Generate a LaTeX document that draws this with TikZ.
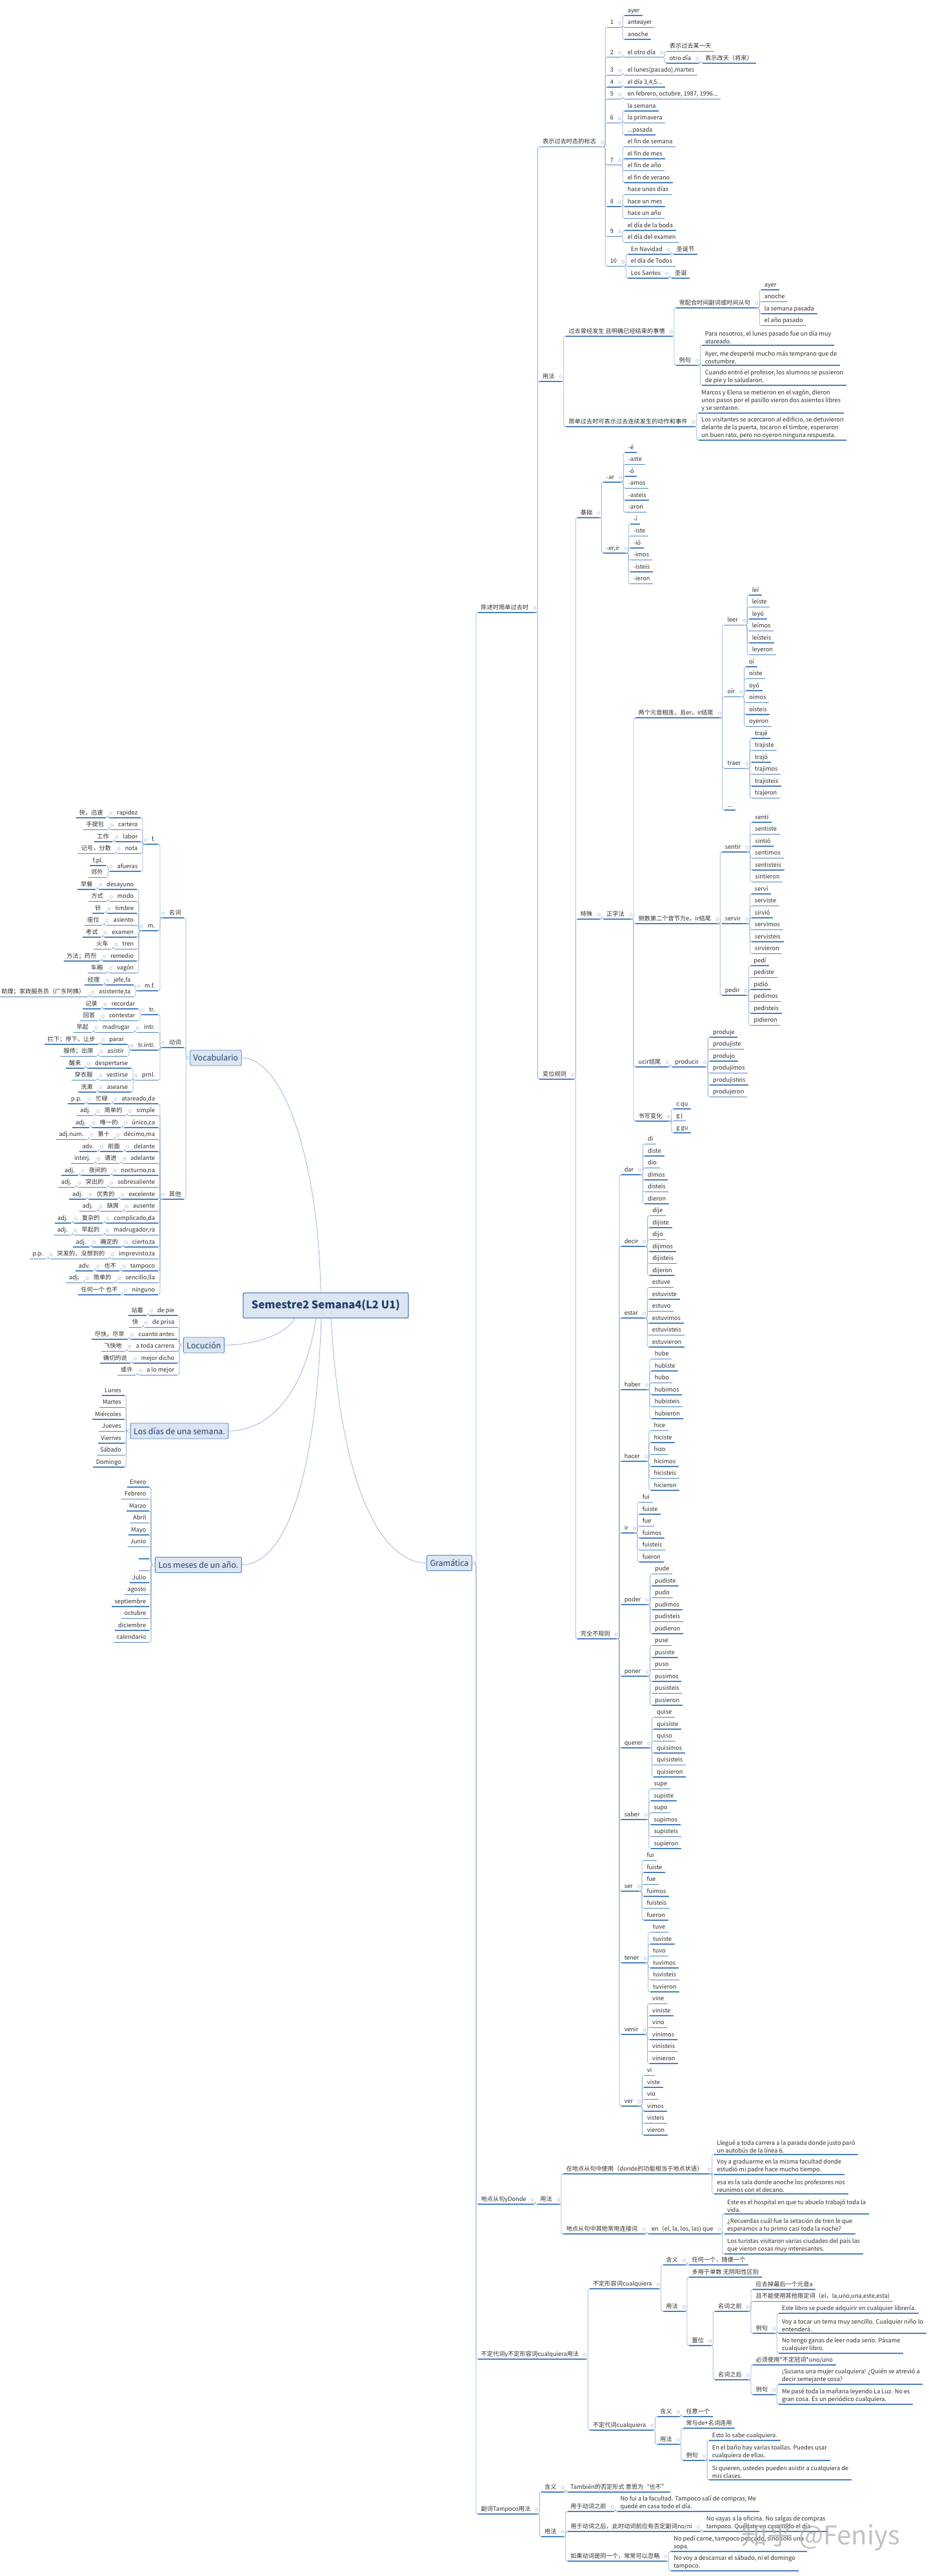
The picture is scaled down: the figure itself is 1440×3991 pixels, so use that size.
\documentclass[tikz,border=0pt]{standalone}
\usepackage{fontspec}
\setmainfont{Noto Sans CJK SC}
\usetikzlibrary{calc}
\definecolor{mapB}{RGB}{79,129,189}
\definecolor{mapL}{RGB}{150,178,214}
\definecolor{mapK}{RGB}{176,196,224}
\definecolor{mapF}{RGB}{220,230,242}
\definecolor{mapT}{RGB}{31,62,106}
\newcommand\ft{\fontsize{9.2}{12}\selectfont}
\newcommand\fb{\fontsize{12.5}{14}\selectfont}
\newcommand\fc{\fontsize{16.5}{18}\selectfont\bfseries}
\newcommand\dd{.\kern0pt.\kern0pt.}
% right hand branches: extend a parent, hang a child
\newcommand\rext[1]{\draw[uline] (#1.south east) -- ++(8,0) coordinate (#1-e); \draw[knob] ([xshift=-3,yshift=7]#1-e) circle (2.2pt);}
\newcommand\rnode[5][topic]{\node[#1] (#3) at ($(#2-e |- 0,#4)+(4.5,0)$) {#5}; \draw[conn] (#2-e) -- ++(1.5,0) |- (#3.south west);}
\newcommand\rkids[4]{\rext{#1}\foreach \w [count=\i, evaluate=\i as \yy using #3+(\i-1)*18.5] in {#4}{\rnode{#1}{#2\i}{\yy}{\w}}}
% left hand branches
\newcommand\lext[1]{\draw[uline] (#1.south west) -- ++(-8,0) coordinate (#1-w); \draw[knob] ([xshift=3,yshift=7]#1-w) circle (2.2pt);}
\newcommand\lnode[4]{\node[topic,anchor=south east] (#2) at ($(#1-w |- 0,#3)+(-4.5,0)$) {#4}; \draw[conn] (#1-w) -- ++(-1.5,0) |- (#2.south east);}
\newcommand\lkids[4]{\lext{#1}\foreach \w [count=\i, evaluate=\i as \yy using #3+(\i-1)*18.5] in {#4}{\lnode{#1}{#2\i}{\yy}{\w}}}
\newcommand\vrow[5]{\lnode{#1}{#2}{#3}{#4}\lext{#2}\lnode{#2}{#2-c}{#3}{#5}}
\newcommand\vrowp[6]{\vrow{#1}{#2}{#3}{#4}{#5}\lext{#2-c}\lnode{#2-c}{#2-p}{#3}{#6}}

\begin{document}
\begin{tikzpicture}[x=1pt,y=-1pt,
  topic/.style={anchor=south west,inner xsep=4.5pt,inner ysep=2pt,text height=7pt,text depth=2.5pt,font=\ft,text=black!82,
    append after command={(\tikzlastnode.south west) edge[uline] (\tikzlastnode.south east)}},
  ex/.style={topic,text height={},text depth={},align=left},
  uline/.style={draw=mapB,line width=1.2pt},
  conn/.style={draw=mapL,line width=0.8pt,rounded corners=3pt},
  knob/.style={draw=mapK,line width=0.7pt,fill=white},
  box/.style={draw=mapB,fill=mapF,rounded corners=2pt,line width=0.9pt,inner xsep=5pt,minimum height=24pt,font=\fb,text=mapT},
  cbox/.style={box,line width=1.3pt,minimum width=256pt,minimum height=39pt,font=\fc},
  main/.style={draw=mapL,line width=0.8pt}]
\useasboundingbox (0,0) rectangle (1440,3991);

% centre and main topics
\node[cbox] (cen) at (505,2022.5) {Semestre2 Semana4(L2 U1)};
\node[box] (voc) at (334.5,1639) {Vocabulario};
\node[box] (loc) at (316,2084) {Locución};
\node[box] (dias) at (278,2217) {Los días de una semana.};
\node[box] (meses) at (307.5,2424.5) {Los meses de un año.};
\node[box] (gram) at (696.5,2421.5) {Gramática};
\draw[main] ([xshift=-8]cen.north) .. controls (494,1800) and (440,1639) .. (voc.east);
\draw[main] ([xshift=-48]cen.south) .. controls (440,2072) and (385,2084) .. (loc.east);
\draw[main] ([xshift=-15]cen.south) .. controls (470,2170) and (410,2217) .. (dias.east);
\draw[main] ([xshift=-7]cen.south) .. controls (488,2330) and (430,2424.5) .. (meses.east);
\draw[main] ([xshift=8]cen.south) .. controls (530,2330) and (600,2421.5) .. (gram.west);

% ---------------- Gramática ----------------
\coordinate (gram-e) at ($(gram.east)+(4.5,0)$);
\rnode{gram}{chen}{949}{陈述时简单过去时}
\rnode{gram}{donde}{3415}{地点从句yDonde}
\rnode{gram}{cual}{3655}{不定代词y不定形容词cualquiera用法}
\rnode{gram}{tamp}{3895}{副词Tampoco用法}
\draw[knob] ([xshift=2]gram.east) circle (2.2pt);

\rext{chen}
\rnode{chen}{biao}{227.5}{表示过去时态的标志}
\rnode{chen}{yfa}{591}{用法}
\rnode{chen}{bw}{1672}{变位规则}

% time markers
\rext{biao}
\rnode{biao}{n1}{42.5}{1}
\rnode{biao}{n2}{88.75}{2}
\rnode{biao}{n3}{116.5}{3}
\rnode{biao}{n4}{135}{4}
\rnode{biao}{n5}{153.5}{5}
\rnode{biao}{n6}{190.5}{6}
\rnode{biao}{n7}{255.75}{7}
\rnode{biao}{n8}{320}{8}
\rnode{biao}{n9}{366.25}{9}
\rnode{biao}{n10}{412.5}{10}
\rkids{n1}{na}{24}{ayer,anteayer,anoche}
\rext{n2}\rnode{n2}{otro}{88.75}{el otro día}
\rkids{otro}{ob}{79.5}{表示过去某一天,otro día}
\rkids{ob2}{oc}{98}{表示改天（将来）}
\rkids{n3}{nc}{116.5}{{el lunes(pasado),martes}}
\rext{n4}\rnode{n4}{nd}{135}{el día 3,4,5\dd}
\rext{n5}\rnode{n5}{ne}{153.5}{en febrero, octubre, 1987, 1996\dd}
\rkids{n6}{nf}{172}{la semana,la primavera,\dd pasada}
\rkids{n7}{ng}{227.5}{el fin de semana,el fin de mes,el fin de año,el fin de verano}
\rkids{n8}{nh}{301.5}{hace unos días,hace un mes,hace un año}
\rkids{n9}{ni}{357}{el día de la boda,el día del examen}
\rkids{n10}{nj}{394}{En Navidad,el día de Todos,Los Santos}
\rkids{nj1}{nk}{394}{圣诞节}
\rkids{nj3}{nl}{431}{圣诞}

% usage
\rext{yfa}
\rnode{yfa}{guo}{521}{过去曾经发生 且明确已经结束的事情}
\rnode{yfa}{jian}{661}{简单过去时可表示过去连续发生的动作和事件}
\rext{guo}
\rnode{guo}{chang}{477}{常配合时间副词或时间从句}
\rnode{guo}{lia}{566}{例句}
\rkids{chang}{ca}{449}{ayer,anoche,la semana pasada,el año pasado}
\rext{lia}
\rnode[ex]{lia}{lia1}{535}{Para nosotros, el lunes pasado fue un día muy\\atareado.}
\rnode[ex]{lia}{lia2}{566}{Ayer, me desperté mucho más temprano que de\\costumbre.}
\rnode[ex]{lia}{lia3}{597}{Cuando entró el profesor, los alumnos se pusieron\\de pie y lo saludaron.}
\rext{jian}
\rnode[ex]{jian}{jia1}{640}{Marcos y Elena se metieron en el vagón, dieron\\unos pasos por el pasillo vieron dos asientos libres\\y se sentaron.}
\rnode[ex]{jian}{jia2}{682}{Los visitantes se acercaron al edificio, se detuvieron\\delante de la puerta, tocaron el timbre, esperaron\\un buen rato, pero no oyeron ninguna respuesta.}

% conjugation
\rext{bw}
\rnode{bw}{jc}{802}{基础}
\rnode{bw}{ts}{1424}{特殊}
\rnode{bw}{wq}{2539}{完全不规则}
\rext{jc}
\rnode{jc}{ar}{747}{-ar}
\rnode{jc}{erir}{857}{-er,ir}
\rkids{ar}{ar}{701}{-é,-aste,-ó,-amos,-asteis,-aron}
\rkids{erir}{er}{812}{-í,-iste,-ió,-imos,-isteis,-ieron}
\rext{ts}\rnode{ts}{zz}{1424}{正字法}
\rext{zz}
\rnode{zz}{ly}{1112}{两个元音相连，且er，ir结尾}
\rnode{zz}{ds}{1431}{倒数第二个音节为e，ir结尾}
\rnode{zz}{uc}{1653}{ucir结尾}
\rnode{zz}{sx}{1737}{书写变化}
\rext{ly}
\rnode{ly}{leer}{968.5}{leer}
\rnode{ly}{oir}{1079.5}{oír}
\rnode{ly}{traer}{1190.5}{traer}
\rnode{ly}{dots}{1255}{\dd}
\rkids{leer}{le}{922}{leí,leíste,leyó,leímos,leísteis,leyeron}
\rkids{oir}{oi}{1033}{oí,oíste,oyó,oímos,oísteis,oyeron}
\rkids{traer}{trj}{1144}{trajé,trajiste,trajó,trajimos,trajisteis,trajeron}
\rext{ds}
\rnode{ds}{sentir}{1320}{sentir}
\rnode{ds}{servir}{1431}{servir}
\rnode{ds}{pedir}{1542}{pedir}
\rkids{sentir}{sen}{1274}{sentí,sentiste,sintió,sentimos,sentisteis,sintieron}
\rkids{servir}{svr}{1385}{serví,serviste,sirvió,servimos,servisteis,sirvieron}
\rkids{pedir}{ped}{1496}{pedí,pediste,pidió,pedimos,pedisteis,pidieron}
\rext{uc}\rnode{uc}{prod}{1653}{producir}
\rkids{prod}{pro}{1607}{produje,produjiste,produjo,produjimos,produjisteis,produjeron}
\rkids{sx}{sx}{1718}{c qu,g j,g gu}

% irregular verbs
\rext{wq}
\rnode{wq}{dar}{1820}{dar}
\rnode{wq}{decir}{1931}{decir}
\rnode{wq}{estar}{2042}{estar}
\rnode{wq}{haber}{2153}{haber}
\rnode{wq}{hacer}{2264}{hacer}
\rnode{wq}{ir}{2375}{ir}
\rnode{wq}{poder}{2486}{poder}
\rnode{wq}{poner}{2597}{poner}
\rnode{wq}{querer}{2708}{querer}
\rnode{wq}{saber}{2819}{saber}
\rnode{wq}{ser}{2930}{ser}
\rnode{wq}{tener}{3041}{tener}
\rnode{wq}{venir}{3152}{venir}
\rnode{wq}{ver}{3263}{ver}
\rkids{dar}{dar}{1772.5}{di,diste,dio,dimos,disteis,dieron}
\rkids{decir}{dec}{1883.5}{dije,dijiste,dijo,dijimos,dijisteis,dijeron}
\rkids{estar}{est}{1994.5}{estuve,estuviste,estuvo,estuvimos,estuvisteis,estuvieron}
\rkids{haber}{hab}{2105.5}{hube,hubiste,hubo,hubimos,hubisteis,hubieron}
\rkids{hacer}{hac}{2216.5}{hice,hiciste,hizo,hicimos,hicisteis,hicieron}
\rkids{ir}{irr}{2327.5}{fui,fuiste,fue,fuimos,fuisteis,fueron}
\rkids{poder}{pod}{2438.5}{pude,pudiste,pudo,pudimos,pudisteis,pudieron}
\rkids{poner}{pon}{2549.5}{puse,pusiste,puso,pusimos,pusisteis,pusieron}
\rkids{querer}{que}{2660.5}{quise,quisiste,quiso,quisimos,quisisteis,quisieron}
\rkids{saber}{sab}{2771.5}{supe,supiste,supo,supimos,supisteis,supieron}
\rkids{ser}{srr}{2882.5}{fui,fuiste,fue,fuimos,fuisteis,fueron}
\rkids{tener}{ten}{2993.5}{tuve,tuviste,tuvo,tuvimos,tuvisteis,tuvieron}
\rkids{venir}{ven}{3104.5}{vine,viniste,vino,vinimos,vinisteis,vinieron}
\rkids{ver}{vrr}{3215.5}{vi,viste,vio,vimos,visteis,vieron}

% donde
\rext{donde}\rnode{donde}{dyf}{3415}{用法}
\rext{dyf}
\rnode{dyf}{zai}{3368}{在地点从句中使用（donde的功能相当于地点状语）}
\rnode{dyf}{qita}{3461}{地点从句中其他常用连接词}
\rext{zai}
\rnode[ex]{zai}{za1}{3338}{Llegué a toda carrera a la parada donde justo paró\\un autobús de la línea 6.}
\rnode[ex]{zai}{za2}{3369}{Voy a graduarme en la misma facultad donde\\estudió mi padre hace mucho tiempo.}
\rnode[ex]{zai}{za3}{3399}{esa es la sala donde anoche los profesores nos\\reunimos con el decano.}
\rext{qita}\rnode{qita}{enq}{3461}{en（el, la, los, las) que}
\rext{enq}
\rnode[ex]{enq}{eq1}{3430}{Este es el hospital en que tu abuelo trabajó toda la\\vida.}
\rnode[ex]{enq}{eq2}{3461}{¿Recuerdas cuál fue la setación de tren le que\\esperamos a tu primo casi toda la noche?}
\rnode[ex]{enq}{eq3}{3492}{Los turistas  visitaron varias ciudades del país las\\que vieron cosas muy interesantes.}

% cualquiera
\rext{cual}
\rnode{cual}{adj}{3546}{不定形容词cualquiera}
\rnode{cual}{pron}{3765}{不定代词cualquiera}
\rext{adj}
\rnode{adj}{hya}{3509}{含义}
\rnode{adj}{yfb}{3581}{用法}
\rkids{hya}{hya}{3509}{任何一个，随便一个}
\rext{yfb}
\rnode{yfb}{dyu}{3528}{多用于单数 无阴阳性区别}
\rnode{yfb}{zw}{3634}{置位}
\rext{zw}
\rnode{zw}{mq}{3581}{名词之前}
\rnode{zw}{mh}{3687}{名词之后}
\rext{mq}
\rnode{mq}{mq1}{3547}{应去掉最后一个元音a}
\rnode{mq}{mq2}{3565.5}{且不能使用其他限定词（el，la,uno,una,este,esta)}
\rnode{mq}{lib}{3615}{例句}
\rext{lib}
\rnode[ex]{lib}{lb1}{3584}{Este libro se puede adquirir en cualquier librería.}
\rnode[ex]{lib}{lb2}{3615}{Voy a tocar un tema muy sencillo. Cualquier niño lo\\entenderá.}
\rnode[ex]{lib}{lb3}{3646}{No tengo ganas de leer nada serio. Pásame\\cualquier libro.}
\rext{mh}
\rnode{mh}{mh1}{3664}{必须使用*不定冠词*uno/uno}
\rnode{mh}{lic}{3710}{例句}
\rext{lic}
\rnode[ex]{lic}{lc1}{3694}{¡Susana una mujer cualquiera! ¿Quién se atrevió a\\decir semejante cosa?}
\rnode[ex]{lic}{lc2}{3725}{Me pasé toda la mañana leyendo La Luz. No es\\gran cosa. Es un periódico cualquiera.}
\rext{pron}
\rnode{pron}{hyb}{3744}{含义}
\rnode{pron}{yfc}{3787}{用法}
\rkids{hyb}{hyb}{3744}{任意一个}
\rext{yfc}
\rnode{yfc}{chy}{3762}{常与de+名词连用}
\rnode{yfc}{lid}{3812}{例句}
\rext{lid}
\rnode[ex]{lid}{ld1}{3781}{Esto lo sabe cualquiera.}
\rnode[ex]{lid}{ld2}{3812}{En el baño hay varias toallas. Puedes usar\\cualquiera de ellas.}
\rnode[ex]{lid}{ld3}{3842}{Si quieren, ustedes pueden asistir a cualquiera de\\mis clases.}

% tampoco
\rext{tamp}
\rnode{tamp}{hyc}{3861}{含义}
\rnode{tamp}{yfd}{3930}{用法}
\rkids{hyc}{hyc}{3861}{También的否定形式 意思为“也不”}
\rext{yfd}
\rnode{yfd}{qian}{3891}{用于动词之前}
\rnode{yfd}{hou}{3922}{用于动词之后，此时动词前应有否定副词no/ni}
\rnode{yfd}{ru}{3968}{如果动词是同一个，常常可以忽略}
\rext{qian}\rnode[ex]{qian}{qi1}{3891}{No fui a la facultad. Tampoco salí de compras, Me\\quedé en casa todo el día.}
\rext{hou}\rnode[ex]{hou}{ho1}{3922}{No vayas a la oficina. No salgas de compras\\tampoco. Quédate en casa todo el día}
\rext{ru}
\rnode[ex]{ru}{ru1}{3953}{No pedí carne, tampoco pescado, sino solo una\\sopa.}
\rnode[ex]{ru}{ru2}{3983}{No voy a descansar el sábado, ni el domingo\\tampoco.}

% ---------------- Vocabulario ----------------
\coordinate (voc-w) at ($(voc.west)+(-4.5,0)$);
\lnode{voc}{mc}{1422}{名词}
\lnode{voc}{dc}{1623}{动词}
\lnode{voc}{qt}{1858}{其他}
\draw[knob] ([xshift=-2]voc.west) circle (2.2pt);
\lext{mc}
\lnode{mc}{fem}{1308}{f.}
\lnode{mc}{mas}{1442}{m.}
\lnode{mc}{mf}{1535}{m.f.}
\lext{fem}
\vrow{fem}{fa}{1267}{rapidez}{快，迅速}
\vrow{fem}{fb}{1285.5}{cartera}{手提包}
\vrow{fem}{fc}{1304}{labor}{工作}
\vrow{fem}{fd}{1322.5}{nota}{记号，分数}
\lnode{fem}{fe}{1350}{afueras}
\lkids{fe}{fe}{1341}{f.pl.,郊外}
\lext{mas}
\foreach \es/\zh [count=\i, evaluate=\i as \yy using 1378+(\i-1)*18.5] in {desayuno/早餐,modo/方式,timbre/铃,asiento/座位,examen/考试,tren/火车,remedio/方法；药剂,vagón/车厢}{\vrow{mas}{ma\i}{\yy}{\es}{\zh}}
\lext{mf}
\vrow{mf}{mfa}{1526}{jefe,fa}{经理}
\vrow{mf}{mfb}{1544.5}{asistente,ta}{助理；家政服务员（广东阿姨）}
\lext{dc}
\lnode{dc}{vtr}{1572}{tr.}
\lnode{dc}{vin}{1599.5}{intr.}
\lnode{dc}{vti}{1627}{tr.intr.}
\lnode{dc}{vpr}{1673.5}{prnl.}
\lext{vtr}\vrow{vtr}{tra}{1563}{recordar}{记录}\vrow{vtr}{trb}{1581.5}{contestar}{回答}
\lext{vin}\vrow{vin}{ina}{1599.5}{madrugar}{早起}
\lext{vti}\vrow{vti}{tia}{1618}{parar}{拦下；停下，让步}\vrow{vti}{tib}{1636.5}{asistir}{服侍；出席}
\lext{vpr}\vrow{vpr}{pra}{1655}{despertarse}{醒来}\vrow{vpr}{prb}{1673.5}{vestirse}{穿衣服}\vrow{vpr}{prc}{1692}{asearse}{洗漱}
\lext{qt}
\foreach \es/\zh/\pos [count=\i, evaluate=\i as \yy using 1710+(\i-1)*18.5] in {{atareado,da}/忙碌/p.p.,simple/简单的/adj.,{único,ca}/唯一的/adj.,{décimo,ma}/第十/adj.num.,delante/前面/adv.,adelante/请进/interj.,{nocturno,na}/夜间的/adj.,sobresaliente/突出的/adj.,excelente/优秀的/adj.,ausente/缺席/adj.,{complicado,da}/复杂的/adj.,{madrugador,ra}/早起的/adj.,{cierto,ta}/确定的/adj.,{imprevisto,ta}/突发的，没想到的/p.p.,tampoco/也不/adv.,{sencillo,lla}/简单的/adj.}{\vrowp{qt}{qa\i}{\yy}{\es}{\zh}{\pos}}
\vrow{qt}{qz}{2006}{ninguno}{任何一个 也不}

% ---------------- Locución ----------------
\coordinate (loc-w) at ($(loc.west)+(-4.5,0)$);
\foreach \es/\zh [count=\i, evaluate=\i as \yy using 2038+(\i-1)*18.5] in {de pie/站着,de prisa/快,cuanto antes/尽快，尽早,a toda carrera/飞快地,mejor dicho/确切的说,a lo mejor/或许}{\vrow{loc}{lo\i}{\yy}{\es}{\zh}}
\draw[knob] ([xshift=-2]loc.west) circle (2.2pt);

% ---------------- días / meses ----------------
\coordinate (dias-w) at ($(dias.west)+(-4.5,0)$);
\foreach \w [count=\i, evaluate=\i as \yy using 2162+(\i-1)*18.5] in {Lunes,Martes,Miércoles,Jueves,Viernes,Sábado,Domingo}{\lnode{dias}{dw\i}{\yy}{\w}}
\draw[knob] ([xshift=-2]dias.west) circle (2.2pt);
\coordinate (meses-w) at ($(meses.west)+(-4.5,0)$);
\foreach \w [count=\i, evaluate=\i as \yy using 2304+(\i-1)*18.5] in {Enero,Febrero,Marzo,Abril,Mayo,Junio,\hspace*{7pt},\hspace*{7pt},Julio,agosto,septiembre,octubre,diciembre,calendario}{\lnode{meses}{mm\i}{\yy}{\w}}
\draw[knob] ([xshift=-2]meses.west) circle (2.2pt);

% watermark
\node[text=black!30,font=\fontsize{40}{42}\selectfont,opacity=0.8] (wm) at (1272,3930) {知乎 @Feniys};
\end{tikzpicture}
\end{document}
